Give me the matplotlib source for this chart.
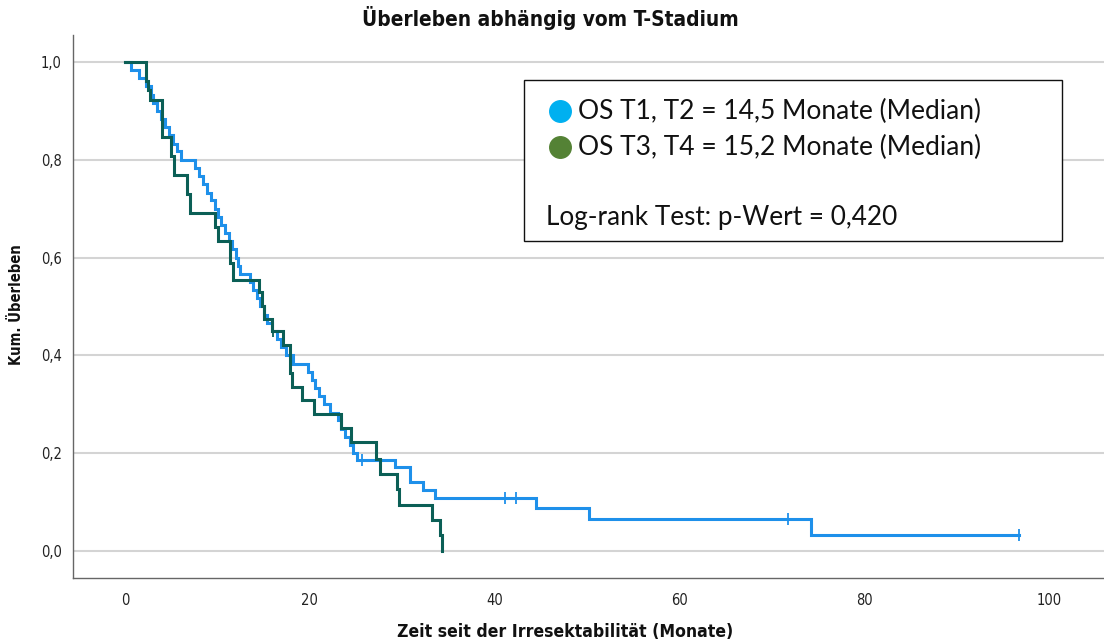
import matplotlib
matplotlib.use("Agg")
import os
import matplotlib.pyplot as plt
from matplotlib.patches import Rectangle
from matplotlib.lines import Line2D
from matplotlib import font_manager
from matplotlib.font_manager import FontProperties

# ---------------- data ----------------
title = "Überleben abhängig vom T-Stadium"
xlabel = "Zeit seit der Irresektabilität (Monate)"
ylabel = "Kum. Überleben"
xticks = [0, 20, 40, 60, 80, 100]
yticks = [0.0, 0.2, 0.4, 0.6, 0.8, 1.0]
ytick_labels = ["0,0", "0,2", "0,4", "0,6", "0,8", "1,0"]

# OS T1, T2 (blue)
blue_times = [0, 0.7, 1.5, 2.3, 2.8, 3.0, 3.5, 3.9, 4.3, 4.8, 5.2, 5.6, 6.1,
              7.6, 8.0, 8.4, 8.9, 9.3, 9.7, 10.1, 10.4, 10.8, 11.2, 11.6, 12.0,
              12.2, 12.4, 13.5, 13.9, 14.3, 14.6, 15.0, 15.4, 15.9, 16.4, 16.9,
              17.4, 18.2, 19.8, 20.2, 20.6, 21.0, 21.5, 22.2, 23.0, 23.4, 23.8,
              24.3, 24.7, 25.1, 29.2, 30.8, 32.2, 33.5, 44.5, 50.2, 74.2]
blue_surv = [1.0, 0.983, 0.967, 0.950, 0.933, 0.917, 0.900, 0.883, 0.867, 0.850,
             0.833, 0.817, 0.800, 0.783, 0.767, 0.750, 0.733, 0.717, 0.700, 0.683,
             0.667, 0.650, 0.633, 0.617, 0.600, 0.583, 0.567, 0.550, 0.533, 0.517,
             0.500, 0.483, 0.467, 0.450, 0.433, 0.417, 0.400, 0.383, 0.367, 0.350,
             0.333, 0.317, 0.300, 0.283, 0.267, 0.250, 0.233, 0.217, 0.200, 0.186,
             0.172, 0.142, 0.125, 0.108, 0.087, 0.065, 0.033]
blue_end = 96.8
blue_censor = [25.6, 41.1, 42.3, 71.7, 96.8]

# OS T3, T4 (dark green)
green_times = [0, 2.3, 2.5, 2.7, 4.0, 5.0, 5.3, 6.7, 7.0, 9.7, 10.1, 11.4, 11.7,
               14.5, 14.8, 15.0, 15.9, 17.1, 17.9, 18.1, 19.1, 20.4, 23.4, 24.5,
               27.2, 27.6, 29.4, 29.6, 33.2, 34.1, 34.3]
green_surv = [1.0, 0.962, 0.942, 0.923, 0.846, 0.808, 0.769, 0.731, 0.692, 0.663,
              0.633, 0.589, 0.554, 0.530, 0.500, 0.474, 0.449, 0.421, 0.364, 0.336,
              0.309, 0.280, 0.252, 0.222, 0.188, 0.157, 0.126, 0.095, 0.063, 0.032,
              0.0]
green_end = 34.3
green_censor = [16.05]

legend_lines = ["OS T1, T2 = 14,5 Monate (Median)",
                "OS T3, T4 = 15,2 Monate (Median)"]
legend_colors = ["#00B0F0", "#548235"]
logrank_text = "Log-rank Test: p-Wert = 0,420"

# ---------------- fonts ----------------
installed = {f.name for f in font_manager.fontManager.ttflist}
legend_font = "Lato" if "Lato" in installed else "DejaVu Sans"


def find_font(keys_any, bold):
    cands = []
    for p in font_manager.findSystemFonts():
        b = os.path.basename(p).lower()
        if not any(k in b for k in keys_any):
            continue
        if "oblique" in b or "italic" in b:
            continue
        isbold = "bold" in b
        if isbold != bold:
            continue
        if not bold and any(k in b for k in ["light", "extra", "thin", "black"]):
            continue
        cands.append(p)
    # preference order
    for pref in ["liberationsansnarrow", "dejavusanscondensed", "condensed", "narrow"]:
        for p in sorted(cands):
            if pref in os.path.basename(p).lower().replace("-", ""):
                return p
    return cands[0] if cands else None


cond_bold = find_font(["narrow", "condensed"], True)
cond_reg = find_font(["narrow", "condensed"], False)
fp_bold = FontProperties(fname=cond_bold) if cond_bold else FontProperties(family="DejaVu Sans", weight="bold")
fp_reg = FontProperties(fname=cond_reg) if cond_reg else FontProperties(family="DejaVu Sans")

# ---------------- figure ----------------
W, H = 1104, 644
fig = plt.figure(figsize=(W / 100, H / 100), dpi=100)
fig.patch.set_facecolor("white")


def fx(px):
    return px / W


def fy(py):
    return 1 - py / H


ax = fig.add_axes([fx(73), fy(578), fx(1104) - fx(73), fy(35) - fy(578)])

BLUE = "#1E90EA"
GREEN = "#0B5F56"


def surv_at(times, surv, t):
    s = surv[0]
    for ti, si in zip(times, surv):
        if ti <= t:
            s = si
    return s


ax.step(blue_times + [blue_end], blue_surv + [blue_surv[-1]], where="post",
        color=BLUE, lw=2.2, zorder=3, solid_joinstyle="miter")
ax.step(green_times + [green_end], green_surv + [green_surv[-1]], where="post",
        color=GREEN, lw=2.2, zorder=4, solid_joinstyle="miter")
ax.plot(blue_censor, [surv_at(blue_times, blue_surv, t) for t in blue_censor],
        ls="none", marker="|", ms=9, mew=1.3, color=BLUE, zorder=3)
ax.plot(green_censor, [surv_at(green_times, green_surv, t) for t in green_censor],
        ls="none", marker="|", ms=9, mew=1.3, color=GREEN, zorder=4)

ax.set_xlim(-5.63, 105.95)
ax.set_ylim(-0.0552, 1.0552)
ax.set_xticks(xticks)
ax.set_xticklabels([str(v) for v in xticks])
ax.set_yticks(yticks)
ax.set_yticklabels(ytick_labels)
tick_fp = fp_reg.copy()
tick_fp.set_size(10.5)
for lab in ax.get_xticklabels() + ax.get_yticklabels():
    lab.set_fontproperties(tick_fp)
    lab.set_color("#222222")
ax.tick_params(axis="both", length=0)
ax.tick_params(axis="y", pad=8)
ax.tick_params(axis="x", pad=11)
ax.yaxis.grid(True, color="#d4d4d4", lw=1.5)
ax.set_axisbelow(True)
for side in ["top", "right"]:
    ax.spines[side].set_visible(False)
for side in ["left", "bottom"]:
    ax.spines[side].set_color("#666666")
    ax.spines[side].set_linewidth(1.0)

fig.canvas.draw()
renderer = fig.canvas.get_renderer()


def fit_text(txt, target, vertical=False):
    for _ in range(3):
        bb = txt.get_window_extent(renderer)
        cur = bb.height if vertical else bb.width
        txt.set_fontsize(txt.get_fontsize() * target / cur)


def bold_text(x, y, s, target, rot=0):
    p = fp_bold.copy()
    p.set_size(14)
    t = fig.text(fx(x), fy(y), s, ha="center", va="center", rotation=rot,
                 fontproperties=p, color="#111111")
    fit_text(t, target, vertical=(rot == 90))
    return t


bold_text(550, 18, title, 378)
bold_text(565, 632, xlabel, 334)
bold_text(17, 305, ylabel, 120, rot=90)

# legend box
fig.add_artist(Rectangle((fx(524), fy(241)), fx(1062) - fx(524), fy(80) - fy(241),
                         transform=fig.transFigure, facecolor="white",
                         edgecolor="#111111", lw=1.0, zorder=5))
ys = [111, 147]
for lab, col, yy in zip(legend_lines, legend_colors, ys):
    fig.add_artist(Line2D([fx(560)], [fy(yy)], marker="o", ms=15.5,
                          color=col, mec=col, ls="none",
                          transform=fig.transFigure, zorder=6))
    tt = fig.text(fx(578), fy(yy), lab, ha="left", va="center",
                  family=[legend_font, "DejaVu Sans"], fontsize=18,
                  color="#111111", zorder=6)
    fit_text(tt, 405)
t_lr = fig.text(fx(546), fy(218), logrank_text, ha="left", va="center",
                family=[legend_font, "DejaVu Sans"], fontsize=18,
                color="#111111", zorder=6)
fit_text(t_lr, 350)

fig.savefig("out.png", dpi=100, facecolor="white")
